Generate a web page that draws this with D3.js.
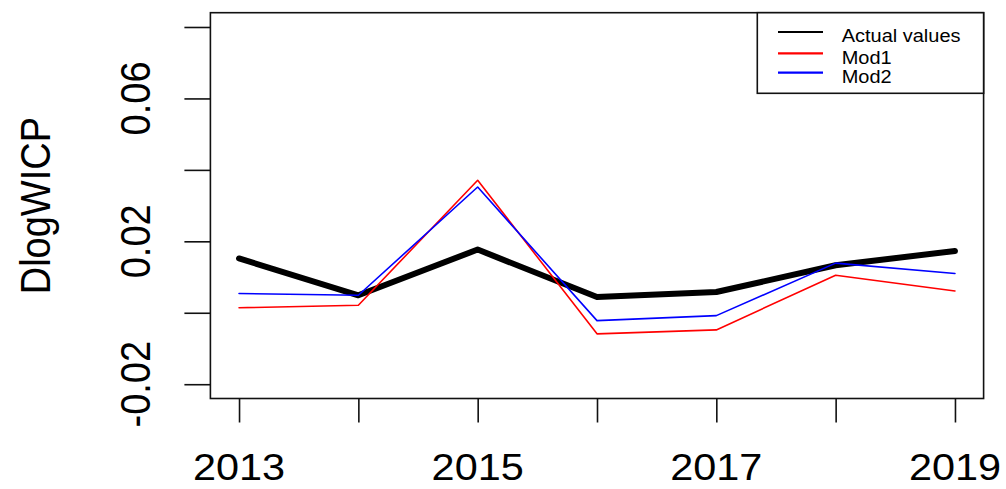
<!DOCTYPE html>
<html>
<head>
<meta charset="utf-8">
<script src="https://cdn.jsdelivr.net/npm/d3@7"></script>
<style>
  body { margin: 0; background: #fff; }
  text { font-family: "Liberation Sans", Arial, sans-serif; fill: #000; }
</style>
</head>
<body>
<div id="chart"></div>
<script>
// data
var years = [2013, 2014, 2015, 2016, 2017, 2018, 2019];
var actualValues = [0.0152, 0.0049, 0.0177, 0.0044, 0.0058, 0.0133, 0.0173];
var mod1 = [0.0014, 0.0021, 0.0371, -0.0059, -0.0048, 0.0105, 0.0061];
var mod2 = [0.0054, 0.0049, 0.0352, -0.0022, -0.0008, 0.0139, 0.0110];
var yTicks = [-0.02, 0, 0.02, 0.04, 0.06, 0.08];
var yTickLabels = ["-0.02", "", "0.02", "", "0.06", ""];
var xTickLabels = ["2013", "", "2015", "", "2017", "", "2019"];
var seriesNames = ["Actual values", "Mod1", "Mod2"];
var seriesColors = ["#000000", "#ff0000", "#0000ff"];

var width = 1006, height = 489;
var box = {left: 210.4, right: 983.6, top: 12.7, bottom: 398.5};

var svg = d3.select("#chart").append("svg").attr("width", width).attr("height", height);

// R style axes: 4% padding around the data range
var x = d3.scaleLinear().domain([2012.76, 2019.24]).range([box.left, box.right]);
var y = d3.scaleLinear().domain([-0.024, 0.084]).range([box.bottom, box.top]);

// lines
var line = d3.line()
    .x(function(d, i) { return x(years[i]); })
    .y(function(d) { return y(d); });

var series = [
    {name: seriesNames[0], values: actualValues, color: seriesColors[0], width: 6},
    {name: seriesNames[1], values: mod1, color: seriesColors[1], width: 1.6},
    {name: seriesNames[2], values: mod2, color: seriesColors[2], width: 1.6}
];

// draw the thick black one first, models on top
svg.selectAll("path.series").data(series).enter().append("path")
    .attr("class", "series")
    .attr("d", function(d) { return line(d.values); })
    .attr("fill", "none")
    .attr("stroke", function(d) { return d.color; })
    .attr("stroke-width", function(d) { return d.width; })
    .attr("stroke-linejoin", "round")
    .attr("stroke-linecap", "round");

// plot box
svg.append("rect")
    .attr("x", box.left).attr("y", box.top)
    .attr("width", box.right - box.left).attr("height", box.bottom - box.top)
    .attr("fill", "none").attr("stroke", "#111").attr("stroke-width", 1.6);

// y axis ticks
var yAxis = svg.append("g")
    .attr("transform", "translate(" + box.left + ",0)")
    .call(d3.axisLeft(y).tickValues(yTicks).tickSize(26).tickFormat(""));
yAxis.select(".domain").remove();
yAxis.selectAll("line").attr("stroke", "#111").attr("stroke-width", 1.6);

// y tick labels, rotated like R's default
svg.selectAll("text.ylab").data(yTicks).enter().append("text")
    .attr("class", "ylab")
    .attr("transform", function(d) { return "translate(150," + y(d) + ") scale(1.1,1) rotate(-90)"; })
    .attr("text-anchor", "middle")
    .style("font-size", "38px")
    .text(function(d, i) { return yTickLabels[i]; });

// x axis ticks
var xAxis = svg.append("g")
    .attr("transform", "translate(0," + box.bottom + ")")
    .call(d3.axisBottom(x).tickValues(years).tickSize(24).tickFormat(""));
xAxis.select(".domain").remove();
xAxis.selectAll("line").attr("stroke", "#111").attr("stroke-width", 1.6);

// x tick labels sit low; keep them inside the page
svg.selectAll("text.xlab").data(years).enter().append("text")
    .attr("class", "xlab")
    .attr("transform", function(d) { return "translate(" + x(d) + ",480) scale(1.12,1)"; })
    .attr("text-anchor", "middle")
    .style("font-size", "37px")
    .text(function(d, i) { return xTickLabels[i]; });

// y axis title
svg.append("text")
    .attr("transform", "translate(50," + ((box.top + box.bottom) / 2) + ") scale(1.1,1) rotate(-90)")
    .attr("text-anchor", "middle")
    .style("font-size", "38px")
    .text("DlogWICP");

// legend
var legend = {x: 757.3, y: box.top, w: box.right - 757.3, h: 80.6};
svg.append("rect")
    .attr("x", legend.x).attr("y", legend.y).attr("width", legend.w).attr("height", legend.h)
    .attr("fill", "#fff").attr("stroke", "#111").attr("stroke-width", 1.6);

var legendRows = [32, 53.3, 72.7];
svg.selectAll("line.leg").data(series).enter().append("line")
    .attr("class", "leg")
    .attr("x1", 778).attr("x2", 823)
    .attr("y1", function(d, i) { return legendRows[i]; })
    .attr("y2", function(d, i) { return legendRows[i]; })
    .attr("stroke", function(d) { return d.color; })
    .attr("stroke-width", 2.2);

svg.selectAll("text.leg").data(series).enter().append("text")
    .attr("class", "leg")
    .attr("transform", function(d, i) { return "translate(841.7," + (legendRows[i] + 10.2) + ") scale(1.08,1)"; })
    .style("font-size", "18.5px")
    .text(function(d) { return d.name; });
</script>
</body>
</html>
